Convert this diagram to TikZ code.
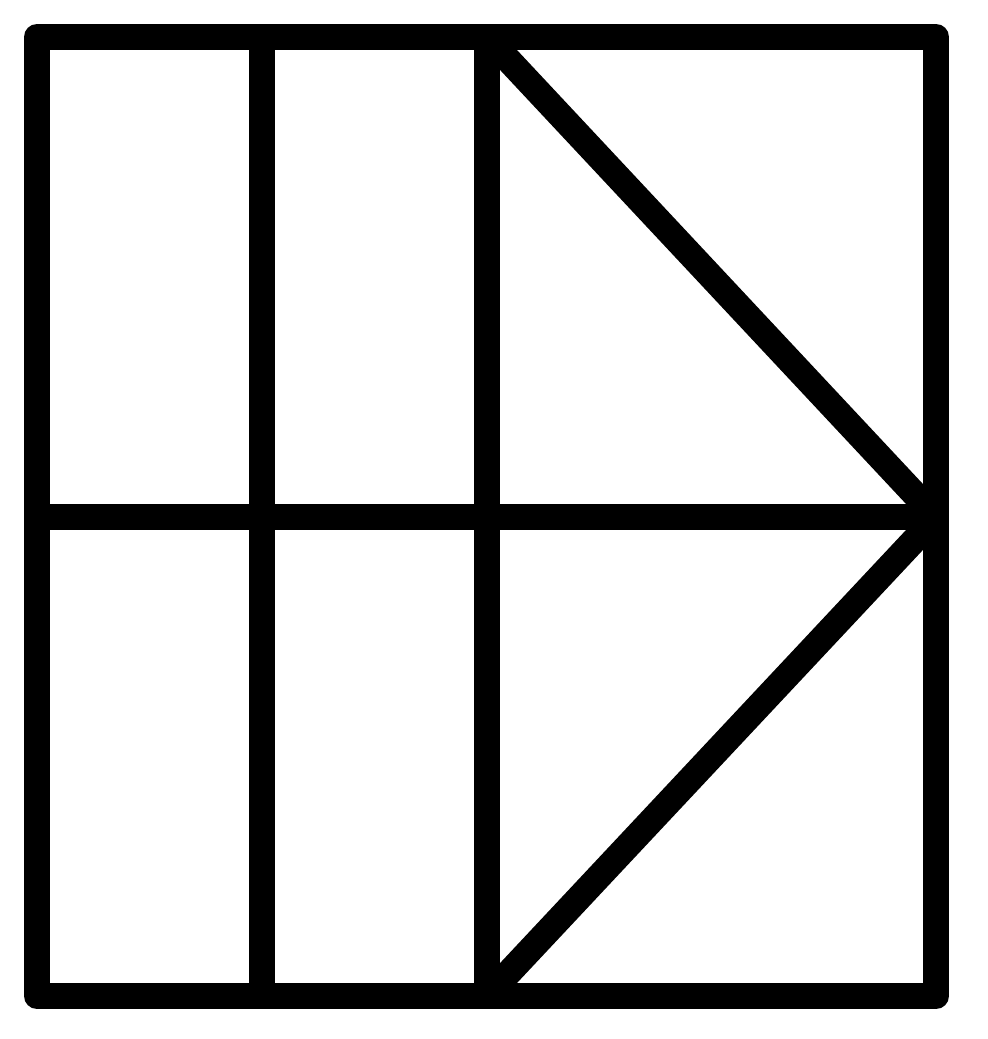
\documentclass[tikz,border=0pt]{standalone}
\usetikzlibrary{positioning}
\tikzset{x=0.1mm, y=-0.1mm, % one unit is one pixel of the sketch, y runs down
bar/.style={ % Sets the look of every stroke
draw=black, line width=2.6mm, line join=round}}

\begin{document}
\begin{tikzpicture}

    \useasboundingbox (0,0) rectangle (987,1039);

    \coordinate (nw) at (37,37);
    \coordinate (ne) at (936,37);
    \coordinate (sw) at (37,996);
    \coordinate (se) at (936,996);
    \coordinate (e)  at (936,517);
    \coordinate (w)  at (37,517);
    \coordinate (t1) at (262,37);
    \coordinate (b1) at (262,996);
    \coordinate (t2) at (487,37);
    \coordinate (b2) at (487,996);

    \draw[bar] (nw) rectangle (se);
    \draw[bar] (t1) -- (b1);
    \draw[bar] (t2) -- (b2);
    \draw[bar] (w) -- (e);

    \draw[bar] (t2) -- (e);
    \draw[bar] (b2) -- (e);

\end{tikzpicture}
\end{document}
